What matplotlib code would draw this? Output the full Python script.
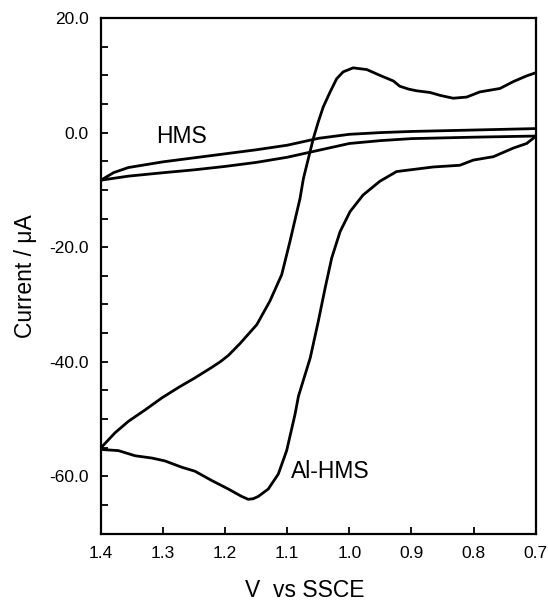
import numpy as np
import matplotlib
matplotlib.use("Agg")
import matplotlib.pyplot as plt
from matplotlib.ticker import MultipleLocator, FormatStrFormatter

plt.rcParams["font.family"] = ["Liberation Sans", "DejaVu Sans"]
plt.rcParams["axes.unicode_minus"] = False

# -------- Data --------
# Al-HMS: anodic sweep 0.7 -> 1.4 V
al_fwd_v = [0.701, 0.7145, 0.736, 0.7575, 0.790, 0.811, 0.833, 0.854, 0.870, 0.892,
            0.905, 0.919, 0.929, 0.951, 0.972, 0.994, 1.010, 1.0205, 1.031, 1.042,
            1.050, 1.058, 1.066, 1.074, 1.0795, 1.0957, 1.109, 1.128, 1.149, 1.176,
            1.195, 1.208, 1.222, 1.2486, 1.2755, 1.302, 1.329, 1.356, 1.3775, 1.400]
al_fwd_i = [10.4, 9.9, 8.9, 7.7, 7.1, 6.2, 6.0, 6.5, 7.0, 7.3,
            7.6, 8.1, 9.0, 10.0, 11.0, 11.3, 10.6, 9.4, 7.1, 4.5,
            1.9, -1.0, -4.5, -8.0, -11.5, -19.0, -24.8, -29.4, -33.5, -36.8,
            -38.9, -40.0, -41.0, -42.8, -44.5, -46.3, -48.4, -50.4, -52.4, -55.0]
# Al-HMS: return sweep 1.4 -> 0.7 V
al_rev_v = [1.400, 1.372, 1.345, 1.318, 1.297, 1.270, 1.2486, 1.222, 1.195, 1.1734,
            1.1628, 1.1550, 1.1467, 1.1306, 1.1145, 1.101, 1.0876, 1.082, 1.063, 1.050,
            1.039, 1.0285, 1.015, 0.999, 0.978, 0.951, 0.924, 0.902, 0.865, 0.822,
            0.8005, 0.768, 0.736, 0.7145, 0.701]
al_rev_i = [-55.3, -55.5, -56.4, -56.8, -57.3, -58.4, -59.1, -60.7, -62.2, -63.5,
            -64.0, -63.9, -63.5, -62.2, -59.6, -55.5, -49.2, -46.0, -39.3, -32.9,
            -27.1, -21.9, -17.3, -13.8, -10.9, -8.5, -6.8, -6.5, -6.0, -5.7,
            -4.8, -4.2, -2.7, -1.9, -0.75]

# HMS blank
hms_up_v = [0.70, 0.80, 0.90, 0.95, 1.00, 1.05, 1.10, 1.15, 1.20, 1.25, 1.30, 1.356, 1.38, 1.40]
hms_up_i = [0.7, 0.45, 0.2, 0.0, -0.3, -1.0, -2.2, -3.0, -3.7, -4.4, -5.1, -6.1, -7.0, -8.3]
hms_lo_v = [1.40, 1.356, 1.30, 1.25, 1.20, 1.15, 1.10, 1.05, 1.00, 0.95, 0.90, 0.80, 0.70]
hms_lo_i = [-8.3, -7.6, -7.0, -6.5, -5.9, -5.2, -4.3, -3.1, -1.9, -1.4, -1.05, -0.8, -0.6]

fig = plt.figure(figsize=(5.48, 6.04), dpi=100)
ax = fig.add_axes([0.1843, 0.1164, 0.7932, 0.8538])

lw = 2.0
ax.plot(al_fwd_v + al_rev_v, al_fwd_i + al_rev_i, color="black", lw=lw, solid_joinstyle="round")
ax.plot(hms_up_v + hms_lo_v, hms_up_i + hms_lo_i, color="black", lw=lw, solid_joinstyle="round")

ax.text(1.27, -0.7, "HMS", fontsize=16.5, ha="center", va="center")
ax.text(1.031, -59.2, "Al-HMS", fontsize=16.5, ha="center", va="center")

ax.set_xlim(1.4, 0.7)
ax.set_ylim(-70, 20)

ax.xaxis.set_major_locator(MultipleLocator(0.1))
ax.xaxis.set_major_formatter(FormatStrFormatter("%.1f"))
ax.yaxis.set_major_locator(MultipleLocator(20))
ax.yaxis.set_minor_locator(MultipleLocator(5))
ax.yaxis.set_major_formatter(FormatStrFormatter("%.1f"))

ax.tick_params(which="both", direction="in", length=5, width=1.3, labelsize=12.5, pad=9)
for s in ax.spines.values():
    s.set_linewidth(1.6)

ax.set_xlabel("V  vs SSCE", fontsize=16.5)
ax.set_ylabel("Current / \u03bcA", fontsize=16.5)
ax.xaxis.set_label_coords(0.469, -0.088)
ax.yaxis.set_label_coords(-0.148, 0.5)

fig.savefig("out.png", dpi=100)
